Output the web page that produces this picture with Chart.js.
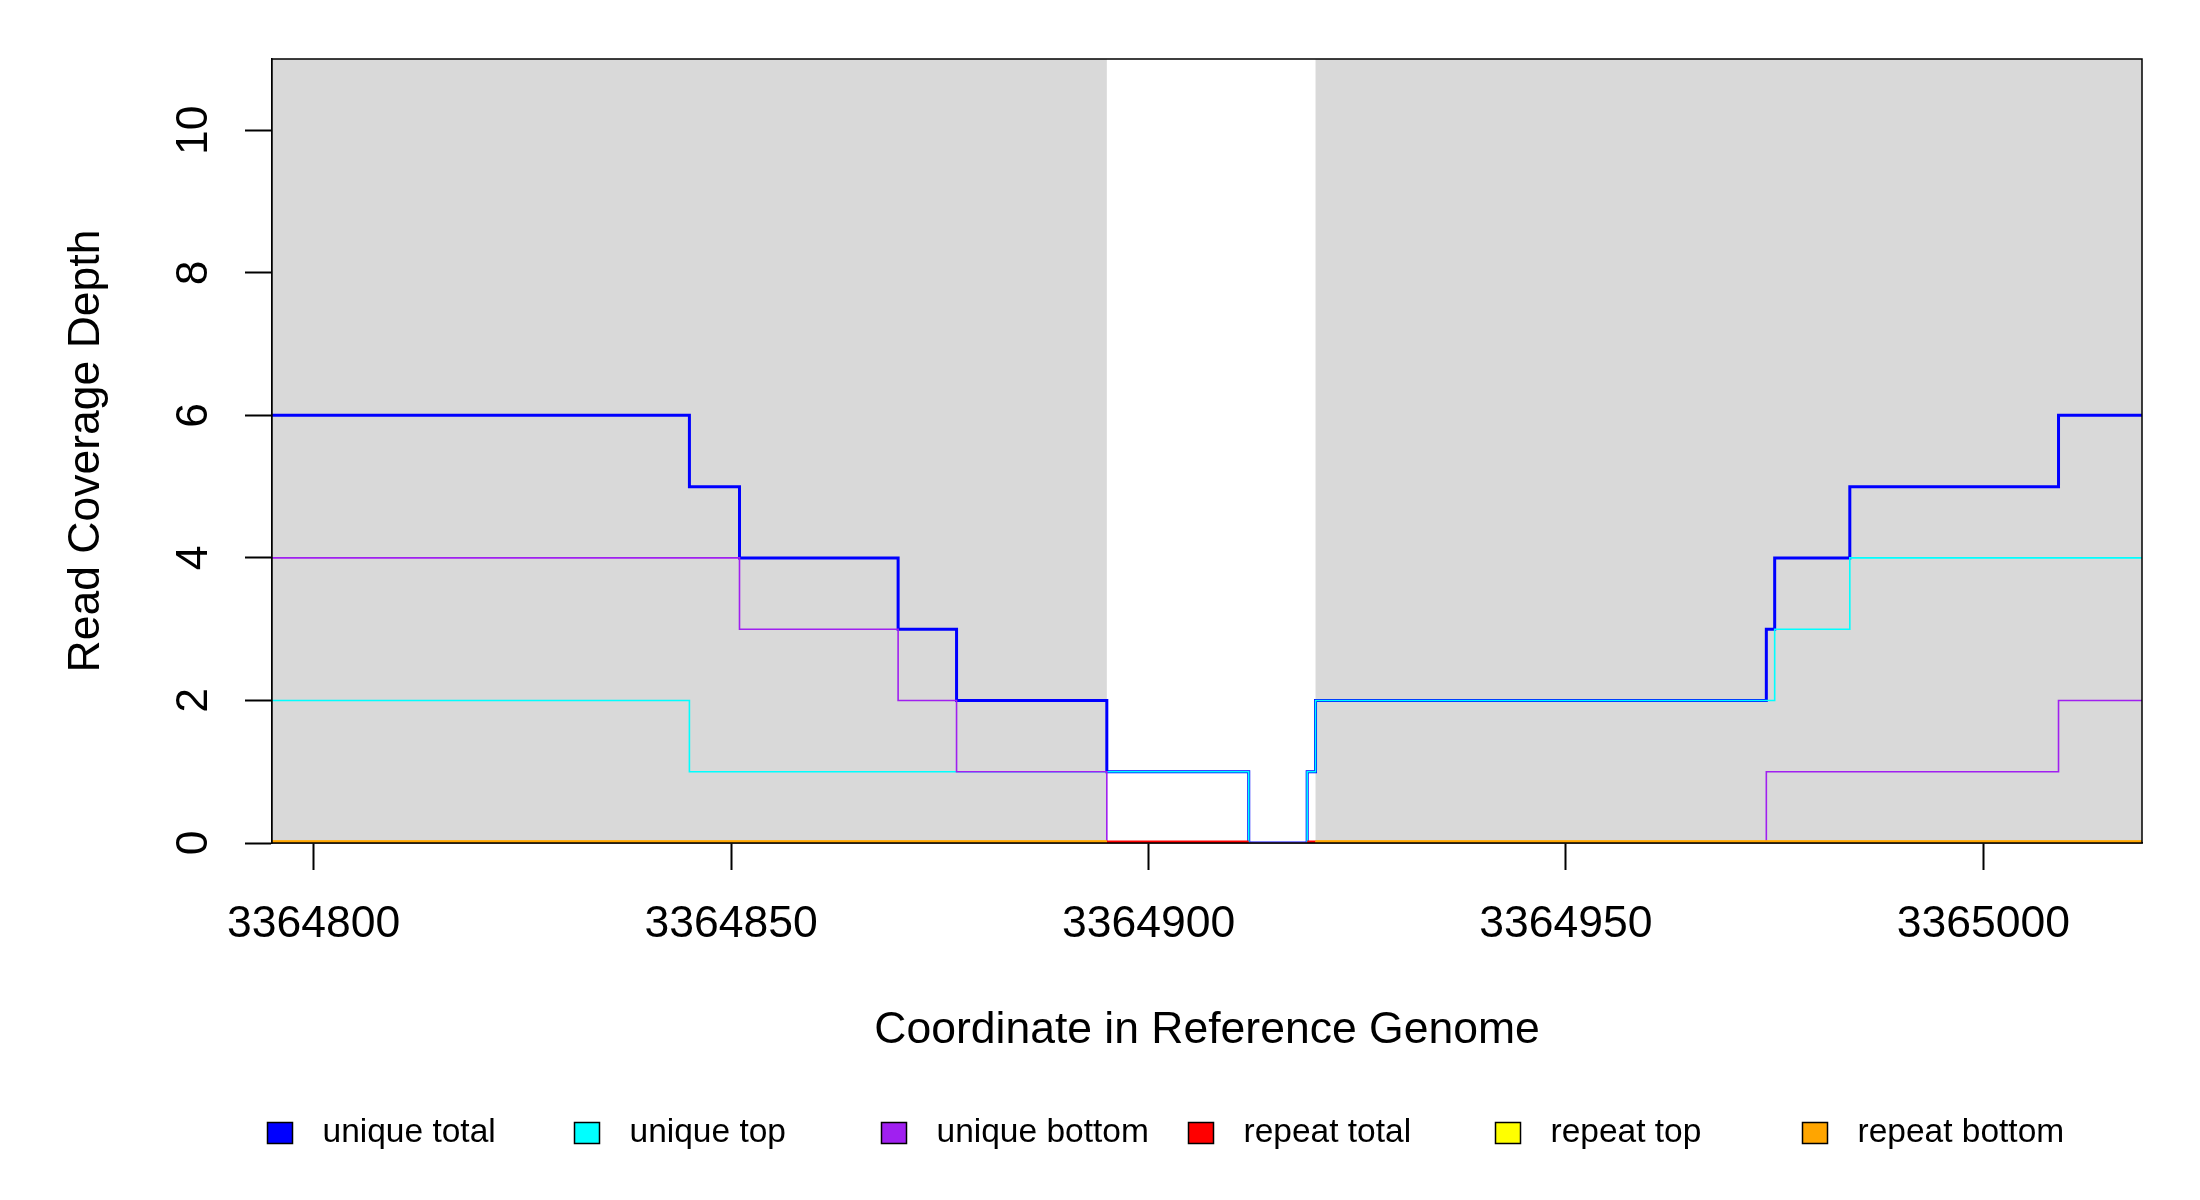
<!DOCTYPE html>
<html><head><meta charset="utf-8">
<script src="https://cdn.jsdelivr.net/npm/chart.js@4"></script>
<style>html,body{margin:0;padding:0;background:#fff}canvas{display:block}</style>
</head><body>
<canvas id="c" width="2200" height="1200"></canvas>
<script>
const xMin = 3364795, xMax = 3365019;
const yMin = 0, yMax = 11;
const xTicks = [3364800, 3364850, 3364900, 3364950, 3365000];
const yTicks = [0, 2, 4, 6, 8, 10];
const shadedRegions = [[3364795, 3364895], [3364920, 3365019]];

const seriesNames = ['unique total', 'unique top', 'unique bottom', 'repeat total', 'repeat top', 'repeat bottom'];
const seriesColors = ['#0000FF', '#00FFFF', '#A020F0', '#FF0000', '#FFFF00', '#FFA500'];

// run starts (last entry = end of data) and the depth on each run
const uniqueTotalX = [3364795, 3364845, 3364851, 3364870, 3364877, 3364895, 3364912, 3364919, 3364920, 3364974, 3364975, 3364984, 3365009, 3365019];
const uniqueTotalY = [6, 5, 4, 3, 2, 1, 0, 1, 2, 3, 4, 5, 6];
const uniqueTopX = [3364795, 3364845, 3364912, 3364919, 3364920, 3364975, 3364984, 3365019];
const uniqueTopY = [2, 1, 0, 1, 2, 3, 4];
const uniqueBottomX = [3364795, 3364851, 3364870, 3364877, 3364895, 3364974, 3365009, 3365019];
const uniqueBottomY = [4, 3, 2, 1, 0, 1, 2];
const repeatTotalX = [3364795, 3364912, 3364919, 3365019];
const repeatTotalY = [0, null, 0];
const repeatTopX = [3364795, 3364895, 3364920, 3365019];
const repeatTopY = [0, null, 0];
const repeatBottomX = [3364795, 3364895, 3364920, 3365019];
const repeatBottomY = [0, null, 0];

function steps(xs, ys) {
  const pts = [];
  for (let i = 0; i < ys.length; i++) {
    if (ys[i] === null) {
      if (i > 0 && ys[i - 1] !== null) pts.push({x: xs[i], y: ys[i - 1]});
      pts.push({x: xs[i], y: null});
    } else {
      pts.push({x: xs[i], y: ys[i]});
    }
  }
  const last = ys[ys.length - 1];
  if (last !== null) pts.push({x: xs[xs.length - 1], y: last});
  return pts;
}

const seriesData = [
  steps(uniqueTotalX, uniqueTotalY),
  steps(uniqueTopX, uniqueTopY),
  steps(uniqueBottomX, uniqueBottomY),
  steps(repeatTotalX, repeatTotalY),
  steps(repeatTopX, repeatTopY),
  steps(repeatBottomX, repeatBottomY)
];
const seriesWidths = [3, 1.6, 1.6, 5, 5, 5];

Chart.defaults.font.family = '"Liberation Sans", Arial, sans-serif';
Chart.defaults.color = '#000';

const shadePlugin = {
  id: 'shade',
  beforeDatasetsDraw(chart) {
    const {ctx, chartArea: a, scales: {x}} = chart;
    ctx.save();
    ctx.fillStyle = '#D9D9D9';
    shadedRegions.forEach(([s, e]) => {
      const x0 = x.getPixelForValue(s), x1 = x.getPixelForValue(e);
      ctx.fillRect(x0, a.top, x1 - x0, a.bottom - a.top);
    });
    ctx.restore();
  },
  afterDatasetsDraw(chart) {
    const {ctx, chartArea: a} = chart;
    ctx.save();
    ctx.strokeStyle = '#000';
    ctx.lineWidth = 1.5;
    ctx.strokeRect(a.left, a.top, a.right - a.left, a.bottom - a.top);
    ctx.restore();
  }
};

const legendPlugin = {
  id: 'rlegend',
  afterDraw(chart) {
    const ctx = chart.ctx;
    const startX = 280, pitch = 307, cy = 1133;
    ctx.save();
    ctx.font = '33.5px "Liberation Sans", Arial, sans-serif';
    ctx.textBaseline = 'middle';
    ctx.textAlign = 'left';
    seriesNames.forEach((name, i) => {
      const cx = startX + i * pitch;
      ctx.fillStyle = seriesColors[i];
      ctx.fillRect(cx - 12.5, cy - 10.5, 25, 21);
      ctx.strokeStyle = '#000';
      ctx.lineWidth = 1.5;
      ctx.strokeRect(cx - 12.5, cy - 10.5, 25, 21);
      ctx.fillStyle = '#000';
      ctx.fillText(name, cx + 42.5, cy);
    });
    ctx.restore();
  }
};

new Chart(document.getElementById('c'), {
  type: 'line',
  data: {
    datasets: seriesData.map((d, i) => ({
      label: seriesNames[i],
      data: d,
      borderColor: seriesColors[i],
      backgroundColor: seriesColors[i],
      borderWidth: seriesWidths[i],
      pointRadius: 0,
      stepped: true,
      spanGaps: false,
      fill: false,
      clip: 0,
      order: seriesNames.length - i
    }))
  },
  options: {
    responsive: false,
    animation: false,
    devicePixelRatio: 1,
    layout: {padding: {top: 59, right: 58, bottom: 0, left: 0}},
    plugins: {legend: {display: false}, tooltip: {enabled: false}},
    scales: {
      x: {
        type: 'linear',
        min: xMin, max: xMax,
        afterBuildTicks: (ax) => { ax.ticks = xTicks.map(v => ({value: v})); },
        afterFit: (ax) => { ax.height = 357; ax.paddingLeft = 0; ax.paddingRight = 0; },
        grid: {display: true, drawOnChartArea: false, drawTicks: true, tickLength: 27, tickColor: '#000', tickWidth: 2},
        border: {display: true, color: '#000', width: 1.5},
        ticks: {font: {size: 44.5}, color: '#000', padding: 28, maxRotation: 0, minRotation: 0, autoSkip: false,
                callback: (v) => String(v)},
        title: {display: true, text: 'Coordinate in Reference Genome', font: {size: 44.5}, color: '#000',
                padding: {top: 0, bottom: 143}}
      },
      y: {
        type: 'linear',
        min: yMin, max: yMax,
        afterBuildTicks: (ax) => { ax.ticks = yTicks.map(v => ({value: v})); },
        afterFit: (ax) => { ax.width = 272; ax.paddingTop = 0; ax.paddingBottom = 0; },
        grid: {display: true, drawOnChartArea: false, drawTicks: true, tickLength: 27, tickColor: '#000', tickWidth: 2},
        border: {display: true, color: '#000', width: 1.5},
        ticks: {font: {size: 44.5}, color: '#000', padding: 26, minRotation: 90, maxRotation: 90, autoSkip: false,
                crossAlign: 'center', callback: (v) => String(v)},
        title: {display: true, text: 'Read Coverage Depth', font: {size: 44.5}, color: '#000',
                padding: {top: 60, bottom: 0}}
      }
    }
  },
  plugins: [shadePlugin, legendPlugin]
});
</script>
</body></html>
